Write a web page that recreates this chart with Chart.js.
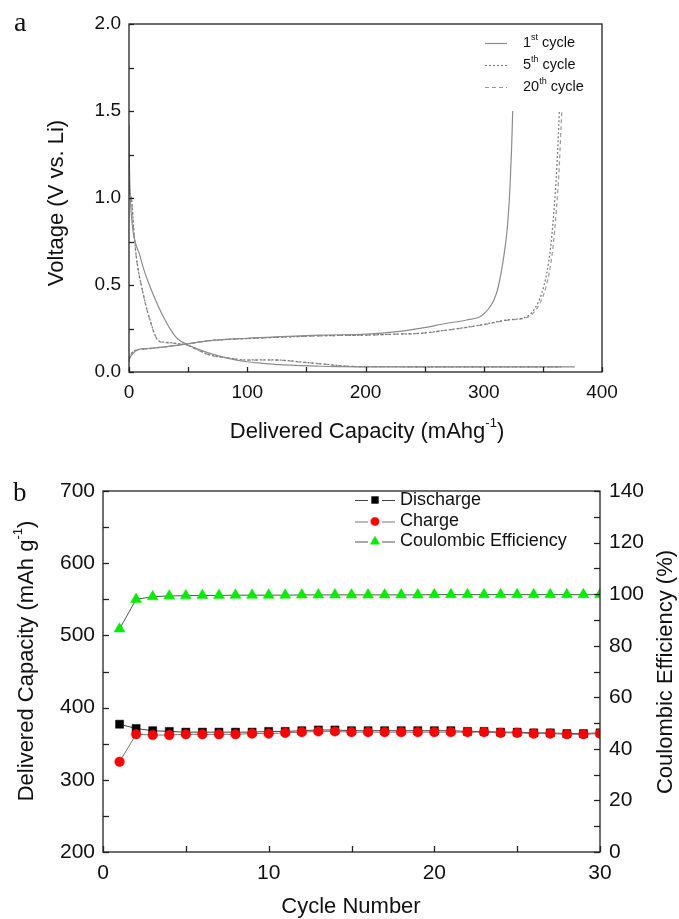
<!DOCTYPE html>
<html><head><meta charset="utf-8">
<script src="https://cdn.jsdelivr.net/npm/chart.js@4.4.1/dist/chart.umd.min.js"></script>
<style>
html,body{margin:0;padding:0;background:#fff;width:679px;height:919px;overflow:hidden}
#ca{position:absolute;left:0;top:0}
#cb{position:absolute;left:0;top:460px}
</style></head><body>
<canvas id="ca" width="679" height="460"></canvas>
<canvas id="cb" width="679" height="459"></canvas>
<script>
// ---------- Panel a: voltage profiles ----------
const c1DisCap = [0, 0.3, 1, 2, 3.6, 5.5, 8.7, 12.5, 17.8, 24, 30.4, 35, 39.7, 43.5, 47.4, 55, 68.5, 83, 99.5, 113, 127.7, 145, 161.5, 180, 195, 230, 280, 330, 377];
const c1DisV   = [1.42, 1.22, 1.02, 0.90, 0.80, 0.74, 0.68, 0.59, 0.49, 0.39, 0.30, 0.245, 0.20, 0.178, 0.164, 0.14, 0.107, 0.08, 0.059, 0.05, 0.042, 0.037, 0.033, 0.031, 0.03, 0.03, 0.03, 0.03, 0.03];
const c1ChgCap = [0, 1, 2, 3.6, 6, 9.3, 14, 20, 31.9, 48.8, 68.5, 99.5, 127.7, 161.5, 201, 226.4, 246, 268.7, 285.6, 296.8, 301, 305.3, 309, 312.3, 316.5, 320, 322.2, 323.6, 324.5];
const c1ChgV   = [0.07, 0.085, 0.095, 0.107, 0.122, 0.132, 0.135, 0.138, 0.146, 0.161, 0.180, 0.194, 0.203, 0.212, 0.218, 0.232, 0.251, 0.28, 0.299, 0.318, 0.34, 0.375, 0.42, 0.49, 0.644, 0.835, 1.065, 1.295, 1.50];

const c5DisCap = [0, 0.5, 1.2, 2.3, 4, 5.9, 8, 10.7, 14, 17.8, 21, 24.8, 30, 40, 48.8, 58, 68.5, 85, 99.5, 115, 130, 145, 161.5, 180, 195, 250, 300, 367];
const c5DisV   = [1.10, 1.05, 1.02, 0.99, 0.82, 0.68, 0.58, 0.49, 0.39, 0.30, 0.23, 0.18, 0.172, 0.165, 0.155, 0.128, 0.098, 0.08, 0.069, 0.07, 0.068, 0.058, 0.048, 0.036, 0.031, 0.03, 0.03, 0.03];
const c5ChgCap = [0, 1, 2.5, 4, 7, 10, 15, 22, 32, 48.8, 68.5, 99.5, 127.7, 161.5, 201, 226.4, 246, 268.7, 296.8, 319.4, 336.3, 343.3, 349, 353.2, 356.6, 359.4, 361.7, 363.4, 363.9];
const c5ChgV   = [0.06, 0.09, 0.11, 0.12, 0.128, 0.13, 0.133, 0.138, 0.146, 0.161, 0.180, 0.192, 0.200, 0.208, 0.212, 0.218, 0.222, 0.241, 0.27, 0.299, 0.318, 0.366, 0.452, 0.566, 0.72, 0.931, 1.161, 1.41, 1.50];

const c20DisCap = [0, 0.5, 1.2, 2.3, 4, 6, 8.2, 11, 14.3, 18, 21.5, 25, 30, 40, 48.8, 58, 68.5, 85, 99.5, 115, 130, 145, 161.5, 180, 195, 250, 300, 365];
const c20DisV   = [1.08, 1.04, 1.01, 0.98, 0.81, 0.67, 0.57, 0.48, 0.38, 0.29, 0.22, 0.178, 0.17, 0.163, 0.154, 0.126, 0.097, 0.079, 0.068, 0.069, 0.067, 0.057, 0.047, 0.035, 0.031, 0.03, 0.03, 0.03];
const c20ChgCap = [0, 1, 2.5, 4, 7, 10, 15, 22, 32, 48.8, 68.5, 99.5, 127.7, 161.5, 201, 226.4, 246, 268.7, 296.8, 320.5, 338, 345, 351, 355.2, 358.6, 361.4, 363.7, 365.4, 366];
const c20ChgV   = [0.06, 0.09, 0.11, 0.12, 0.128, 0.13, 0.133, 0.138, 0.146, 0.161, 0.180, 0.192, 0.200, 0.208, 0.212, 0.218, 0.222, 0.24, 0.268, 0.298, 0.318, 0.366, 0.452, 0.566, 0.72, 0.931, 1.161, 1.41, 1.50];

// ---------- Panel b: cycling ----------
const cycleNo = [1,2,3,4,5,6,7,8,9,10,11,12,13,14,15,16,17,18,19,20,21,22,23,24,25,26,27,28,29,30];
const dischargeCap = [377,371,368,367,366,366,366,366,366,367,367,368,369,369,368,368,368,368,368,368,368,367,367,366,366,365,365,364,364,365];
const chargeCap    = [325,363,362,362,363,363,363,363,364,364,365,366,367,367,366,366,366,366,366,366,366,366,366,365,365,364,364,363,363,364];
const coulombicEff = [86.5,98.0,99.0,99.3,99.4,99.5,99.5,99.6,99.6,99.6,99.6,99.7,99.7,99.7,99.7,99.7,99.7,99.7,99.7,99.8,99.8,99.8,99.8,99.8,99.8,99.8,99.8,99.8,99.8,99.8];

const FONT = '"Liberation Sans", Arial, Helvetica, sans-serif';
const pts = (xs, ys) => xs.map((x, i) => ({x: x, y: ys[i]}));

function richText(ctx, parts, cx, cy, size, rot) {
  ctx.save();
  ctx.translate(cx, cy);
  if (rot) ctx.rotate(rot);
  const base = size + 'px ' + FONT;
  const sup = Math.round(size * 0.6) + 'px ' + FONT;
  let w = 0;
  parts.forEach(p => { ctx.font = p.s ? sup : base; p.w = ctx.measureText(p.t).width; w += p.w; });
  let x = -w / 2;
  ctx.textBaseline = 'middle'; ctx.textAlign = 'left'; ctx.fillStyle = '#111';
  parts.forEach(p => { ctx.font = p.s ? sup : base; ctx.fillText(p.t, x, p.s ? -size * 0.38 : 0); x += p.w; });
  ctx.restore();
}

function frameAndTicks(chart, specs) {
  const ctx = chart.ctx, a = chart.chartArea;
  ctx.save();
  ctx.strokeStyle = '#222'; ctx.lineWidth = 1.3;
  specs.forEach(sp => {
    const s = chart.scales[sp.id];
    s.ticks.forEach(t => {
      const p = Math.round(s.getPixelForValue(t.value)) + 0.5;
      ctx.beginPath();
      if (sp.side === 'bottom') { ctx.moveTo(p, a.bottom); ctx.lineTo(p, a.bottom - sp.len); }
      else if (sp.side === 'left') { ctx.moveTo(a.left, p); ctx.lineTo(a.left + sp.len, p); }
      else { ctx.moveTo(a.right, p); ctx.lineTo(a.right - sp.len, p); }
      ctx.stroke();
    });
  });
  ctx.strokeRect(a.left, a.top, a.right - a.left, a.bottom - a.top);
  ctx.restore();
}

// ---------- Chart a ----------
const styleA = {
  c1: {color: '#8c8c8c', dash: []},
  c5: {color: '#7a7a7a', dash: [2, 2]},
  c20: {color: '#9a9a9a', dash: [4, 3]}
};
function lineDs(label, data, st) {
  return {label, data, borderColor: st.color, borderWidth: 1.2, borderDash: st.dash, pointRadius: 0, fill: false, tension: 0.3, cubicInterpolationMode: 'monotone'};
}
const legendA = [
  {key: 'c1', parts: [{t: '1'}, {t: 'st', s: 1}, {t: ' cycle'}]},
  {key: 'c5', parts: [{t: '5'}, {t: 'th', s: 1}, {t: ' cycle'}]},
  {key: 'c20', parts: [{t: '20'}, {t: 'th', s: 1}, {t: ' cycle'}]}
];

new Chart(document.getElementById('ca'), {
  type: 'line',
  data: {
    datasets: [
      lineDs('1st discharge', pts(c1DisCap, c1DisV), styleA.c1),
      lineDs('1st charge', pts(c1ChgCap, c1ChgV), styleA.c1),
      lineDs('5th discharge', pts(c5DisCap, c5DisV), styleA.c5),
      lineDs('5th charge', pts(c5ChgCap, c5ChgV), styleA.c5),
      lineDs('20th discharge', pts(c20DisCap, c20DisV), styleA.c20),
      lineDs('20th charge', pts(c20ChgCap, c20ChgV), styleA.c20)
    ]
  },
  options: {
    responsive: false, animation: false, devicePixelRatio: 1,
    layout: {padding: {left: 0, top: 24, right: 77, bottom: 0}},
    plugins: {legend: {display: false}, tooltip: {enabled: false}},
    scales: {
      x: {type: 'linear', min: 0, max: 400,
        grid: {display: false, drawTicks: false}, border: {display: false},
        ticks: {stepSize: 50, autoSkip: false, maxRotation: 0, padding: 9, color: '#111', font: {family: FONT, size: 19},
          callback: v => (v % 100 === 0 ? String(v) : '')},
        afterFit: s => { s.height = 88; }},
      y: {type: 'linear', min: 0, max: 2,
        grid: {display: false, drawTicks: false}, border: {display: false},
        ticks: {stepSize: 0.25, autoSkip: false, padding: 8, color: '#111', font: {family: FONT, size: 19},
          callback: v => (Math.abs(v * 2 - Math.round(v * 2)) < 1e-6 ? v.toFixed(1) : '')},
        afterFit: s => { s.width = 129; }}
    }
  },
  plugins: [{
    id: 'decorA',
    afterDraw(chart) {
      const ctx = chart.ctx;
      frameAndTicks(chart, [{id: 'x', side: 'bottom', len: 5}, {id: 'y', side: 'left', len: 5}]);
      richText(ctx, [{t: 'Delivered Capacity (mAhg'}, {t: '-1', s: 1}, {t: ')'}], 367, 432, 22, 0);
      richText(ctx, [{t: 'Voltage (V vs. Li)'}], 57, 203, 22, -Math.PI / 2);
      // legend
      const rows = [43, 65, 87];
      legendA.forEach((L, i) => {
        const st = styleA[L.key];
        ctx.save();
        ctx.strokeStyle = st.color; ctx.lineWidth = 1.2; ctx.setLineDash(st.dash);
        ctx.beginPath(); ctx.moveTo(485, rows[i] + 0.5); ctx.lineTo(507, rows[i] + 0.5); ctx.stroke();
        ctx.restore();
        ctx.save();
        const size = 14.5;
        let x = 523;
        ctx.fillStyle = '#111'; ctx.textBaseline = 'middle';
        L.parts.forEach(p => {
          ctx.font = (p.s ? 9 : size) + 'px ' + FONT;
          ctx.fillText(p.t, x, rows[i] + (p.s ? -5 : 0));
          x += ctx.measureText(p.t).width;
        });
        ctx.restore();
      });
      ctx.save();
      ctx.font = '28px "Liberation Serif", "Times New Roman", serif';
      ctx.fillStyle = '#111'; ctx.textBaseline = 'alphabetic';
      ctx.fillText('a', 14, 31);
      ctx.restore();
    }
  }]
});

// ---------- Chart b ----------
const seriesB = [
  {label: 'Discharge', data: dischargeCap, axis: 'y', style: 'rect', radius: 5.7, color: '#000000', line: '#444444', order: 3},
  {label: 'Charge', data: chargeCap, axis: 'y', style: 'circle', radius: 4.8, color: '#ff0000', line: '#777777', order: 2},
  {label: 'Coulombic Efficiency', data: coulombicEff, axis: 'y2', style: 'triangle', radius: 6.3, color: '#00ee00', line: '#555555', order: 1}
];

new Chart(document.getElementById('cb'), {
  type: 'line',
  data: {
    datasets: seriesB.map(s => ({
      label: s.label,
      data: pts(cycleNo, s.data),
      yAxisID: s.axis,
      order: s.order,
      borderColor: s.line, borderWidth: 1,
      pointStyle: s.style, pointRadius: s.radius,
      pointBackgroundColor: s.color, pointBorderColor: s.color, pointBorderWidth: 0.5,
      fill: false, tension: 0
    }))
  },
  options: {
    responsive: false, animation: false, devicePixelRatio: 1,
    layout: {padding: {left: 0, top: 31, right: 0, bottom: 0}},
    plugins: {legend: {display: false}, tooltip: {enabled: false}},
    scales: {
      x: {type: 'linear', min: 0, max: 30,
        grid: {display: false, drawTicks: false}, border: {display: false},
        ticks: {stepSize: 5, autoSkip: false, maxRotation: 0, padding: 9, color: '#111', font: {family: FONT, size: 21},
          callback: v => (v % 10 === 0 ? String(v) : '')},
        afterFit: s => { s.height = 67; }},
      y: {type: 'linear', position: 'left', min: 200, max: 700,
        grid: {display: false, drawTicks: false}, border: {display: false},
        ticks: {stepSize: 50, autoSkip: false, padding: 8, color: '#111', font: {family: FONT, size: 21},
          callback: v => (v % 100 === 0 ? String(v) : '')},
        afterFit: s => { s.width = 103; }},
      y2: {type: 'linear', position: 'right', min: 0, max: 140,
        grid: {display: false, drawTicks: false}, border: {display: false},
        ticks: {stepSize: 10, autoSkip: false, padding: 9, color: '#111', font: {family: FONT, size: 21},
          callback: v => (v % 20 === 0 ? String(v) : '')},
        afterFit: s => { s.width = 79; }}
    }
  },
  plugins: [{
    id: 'decorB',
    afterDraw(chart) {
      const ctx = chart.ctx;
      frameAndTicks(chart, [{id: 'x', side: 'bottom', len: 6}, {id: 'y', side: 'left', len: 6}, {id: 'y2', side: 'right', len: 6}]);
      richText(ctx, [{t: 'Cycle Number'}], 351, 447, 22, 0);
      richText(ctx, [{t: 'Delivered Capacity (mAh g'}, {t: '-1', s: 1}, {t: ')'}], 27, 201, 22, -Math.PI / 2);
      richText(ctx, [{t: 'Coulombic Efficiency (%)'}], 666, 212, 22, -Math.PI / 2);
      // legend
      const rows = [40, 61.5, 81.5];
      seriesB.forEach((s, i) => {
        const y = rows[i];
        ctx.save();
        ctx.strokeStyle = s.line; ctx.lineWidth = 1.2;
        ctx.beginPath(); ctx.moveTo(355, y + 0.5); ctx.lineTo(368, y + 0.5); ctx.moveTo(382, y + 0.5); ctx.lineTo(395, y + 0.5); ctx.stroke();
        ctx.fillStyle = s.color; ctx.strokeStyle = s.color; ctx.lineWidth = 0.5;
        Chart.helpers.drawPoint(ctx, {pointStyle: s.style, radius: s.radius * 0.85, rotation: 0, borderWidth: 0.5}, 375, y);
        ctx.fillStyle = '#111';
        ctx.font = '18px ' + FONT; ctx.textBaseline = 'middle'; ctx.textAlign = 'left';
        ctx.fillText(s.label, 400, y);
        ctx.restore();
      });
      ctx.save();
      ctx.font = '27px "Liberation Serif", "Times New Roman", serif';
      ctx.fillStyle = '#111'; ctx.textBaseline = 'alphabetic';
      ctx.fillText('b', 13, 41);
      ctx.restore();
    }
  }]
});
</script>
</body></html>
